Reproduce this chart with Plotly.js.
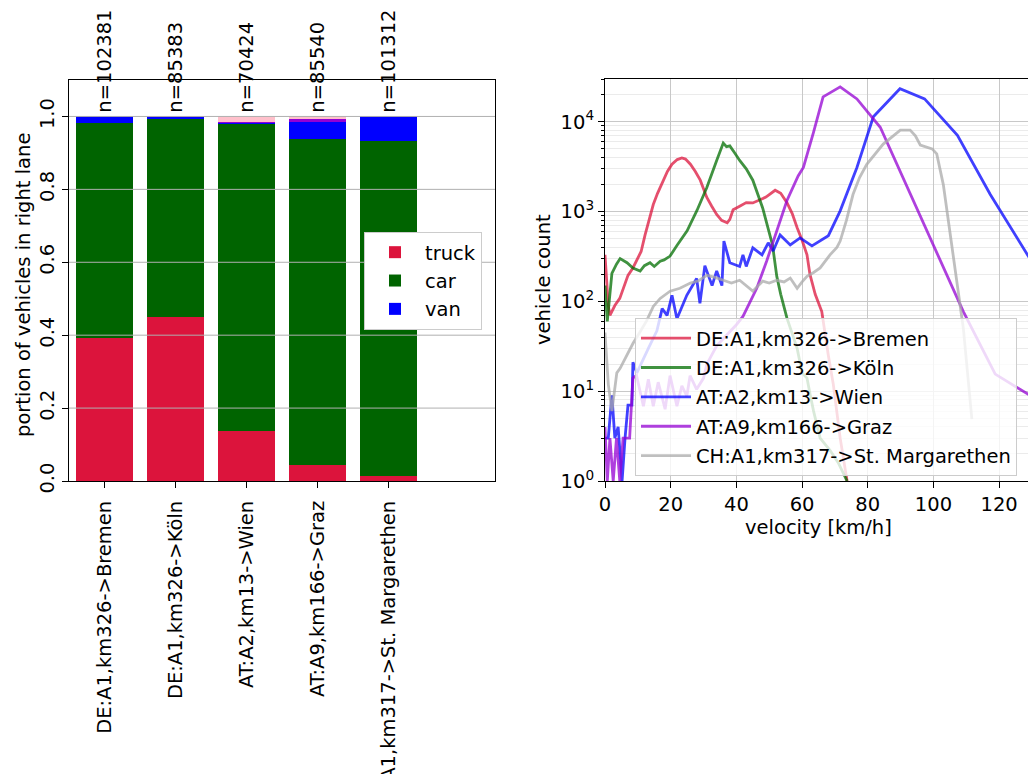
<!DOCTYPE html>
<html>
<head>
<meta charset="utf-8">
<script src="https://cdn.plot.ly/plotly-3.0.1.min.js"></script>
<style>
html,body{margin:0;padding:0;overflow:hidden;background:#fff;}
#chart{width:1034px;height:774px;}
</style>
</head>
<body>
<div id="chart"></div>
<script>
// ---------- left chart data ----------
const sites = ["DE:A1,km326->Bremen","DE:A1,km326->Köln","AT:A2,km13->Wien","AT:A9,km166->Graz","CH:A1,km317->St. Margarethen"];
const counts = [102381, 85383, 70424, 85540, 101312];
const truckShare = [0.393, 0.450, 0.137, 0.045, 0.013];
const carShare   = [0.589, 0.544, 0.841, 0.892, 0.919];
const vanShare   = [0.018, 0.005, 0.003, 0.049, 0.068];
const otherAShare = [0.000, 0.001, 0.004, 0.008, 0.000];
const otherBShare = [0.000, 0.000, 0.015, 0.006, 0.000];
const leftGridVals = [0.2, 0.4, 0.6, 0.8, 1.0];

// ---------- right chart data ----------
const bremenV = [0,1,1.5,3,4.5,6,7,8.5,10,11,12.2,13.5,14.7,16,17.7,19,20.4,22,23.4,24.5,26,27.5,29,30,31,32.5,34,35.5,37.2,38,39,41,43,45,47,49,51.8,53.5,55.4,57,58.5,60,61.5,62.4,64,66,68,69.5,71.6,73.7];
const bremenC = [330,90,70,90,108,150,195,236,300,360,550,800,1200,1600,2240,2800,3370,3800,3960,3850,3370,2800,2240,1800,1440,1150,930,800,750,820,1050,1150,1260,1250,1360,1450,1730,1600,1260,950,660,480,330,200,120,77,25,12,3,1];
const koelnV = [0,0.7,2.1,3.5,4.6,6.7,8.5,10.7,12,13.7,15,16.8,18,19.8,22,25,28,31,34,36,37,38,39.5,41,43,45,48,50,51,52.3,53.5,55.4,58.5,60,61.5,62.5,63.5,65.5,68.5,71,73.7];
const koelnC = [150,60,205,260,300,270,236,218,250,270,245,280,290,320,425,610,1030,1860,3720,5800,5300,5400,4500,3720,3000,2240,1100,600,425,190,120,65,30,16,14,9,6,3,2.2,1.6,1];
const wienV = [0,1,2.1,3,4,5.2,6.1,7,8.2,8.5,9.7,11.6,13.2,15.8,17.4,18.9,20.4,21.9,24.9,27.9,28.9,30.4,32.6,34,35.6,36.2,38,41,42,43,45,47.8,49.7,51.2,53.3,56.4,59.4,63,68,71.6,76.7,81.7,89.8,97.3,107.3,117.3,128.6,140];
const wienC = [3,3,9,3,4,1,3,7,7,21,16,23,30,47,83,70,117,64,117,180,95,250,150,218,150,470,270,245,330,245,395,330,450,365,550,425,510,415,540,1020,3100,11400,23400,18000,7100,1550,330,70];
const grazV = [0,0.7,1.5,2.5,3.5,4.5,5.5,6.5,7.5,8.5,9.6,11.7,13.2,14.7,16.2,18.3,19.8,21.9,23.4,24.9,25.9,27.9,30,31,34,37,40,42,46.2,49.2,52.3,55.4,58.8,60.4,63.5,66.4,71.6,76.7,83.8,109.1,118.8,130];
const grazC = [4,1,3,1,3,1,3,3,3,14,15,6.8,13.6,6.8,12.6,6.3,14.9,6.8,11.5,8.8,14.9,10.5,14,20,32,42,55,68,140,280,610,1330,2500,3100,7700,19000,24500,18000,8700,77,15.5,8.7];
const chV = [0,1,2.1,3.6,4.6,5.5,6.7,8.5,10.7,12.7,14.7,16.8,19.8,22.8,26,28.5,31,33.5,36,38.5,41,43,45,48,50,52.3,54.5,56.4,58.5,60,61.5,63.5,65.5,68.5,70.6,71.6,73.5,75.5,77.5,79.7,84.7,89.9,92.9,94.5,96,99.6,101,103,104.1,105.5,107.1,109.1,111.7];
const chC = [45,12,6,16,18,21,25,34,46,61,88,108,130,140,160,170,195,185,172,160,172,150,130,168,160,172,165,182,140,165,190,210,236,330,400,470,800,1550,2400,3370,5650,8100,8100,7000,5500,5000,4400,2000,1020,450,180,50,4.9];

const logTickVals = [1, 10, 100, 1000, 10000];
const logTickText = ["10<sup>0</sup>","10<sup>1</sup>","10<sup>2</sup>","10<sup>3</sup>","10<sup>4</sup>"];
const minorVals = [];
[1,10,100,1000,10000].forEach(d => { for (let k = 2; k <= 9; k++) minorVals.push(d*k); });

// ---------- geometry ----------
const W = 1034, H = 774;
const FONT = "DejaVu Sans";
const FS = 19.5;
const px = v => v / W;
const py = v => 1 - v / H;

const traces = [];
const barSeries = [
  {name: "truck", vals: truckShare, color: "#DC143C", show: true},
  {name: "car", vals: carShare, color: "#006400", show: true},
  {name: "van", vals: vanShare, color: "#0000FF", show: true},
  {name: "other A", vals: otherAShare, color: "#9400D3", show: false},
  {name: "other B", vals: otherBShare, color: "#FFC0CB", show: false}
];
barSeries.forEach(s => traces.push({
  type: "bar", x: sites, y: s.vals, name: s.name, showlegend: s.show,
  marker: {color: s.color, line: {width: 0}}, width: 0.8,
  xaxis: "x", yaxis: "y", legend: "legend", hoverinfo: "skip"
}));

const lineSeries = [
  {name: "DE:A1,km326->Bremen", v: bremenV, c: bremenC, color: "rgba(220,20,60,0.75)"},
  {name: "DE:A1,km326->Köln", v: koelnV, c: koelnC, color: "rgba(0,110,0,0.75)"},
  {name: "AT:A2,km13->Wien", v: wienV, c: wienC, color: "rgba(0,0,255,0.75)"},
  {name: "AT:A9,km166->Graz", v: grazV, c: grazC, color: "rgba(148,0,211,0.75)"},
  {name: "CH:A1,km317->St. Margarethen", v: chV, c: chC, color: "rgba(169,169,169,0.75)"}
];
lineSeries.forEach((s, i) => traces.push({
  type: "scatter", mode: "lines", x: s.v, y: s.c, name: s.name,
  legendgroup: "g" + i,
  line: {color: s.color, width: 2.8}, xaxis: "x2", yaxis: "y2", legend: "legend2",
  hoverinfo: "skip"
}));

const annotations = sites.map((s, i) => ({
  x: s, y: 1.005, xref: "x", yref: "y", text: "n=" + counts[i],
  textangle: -90, showarrow: false, yanchor: "bottom", xanchor: "center",
  font: {family: FONT, size: FS, color: "#000"}
}));
annotations.push({
  x: px(23), y: py(285), xref: "paper", yref: "paper", text: "portion of vehicles in right lane",
  textangle: -90, showarrow: false, xanchor: "center", yanchor: "middle",
  font: {family: FONT, size: FS, color: "#000"}
});
annotations.push({
  x: px(543), y: py(280), xref: "paper", yref: "paper", text: "vehicle count",
  textangle: -90, showarrow: false, xanchor: "center", yanchor: "middle",
  font: {family: FONT, size: FS, color: "#000"}
});
annotations.push({
  x: px(818), y: py(527), xref: "paper", yref: "paper", text: "velocity [km/h]",
  showarrow: false, xanchor: "center", yanchor: "middle",
  font: {family: FONT, size: FS, color: "#000"}
});

const shapes = leftGridVals.map(g => ({
  type: "line", xref: "x domain", yref: "y", x0: 0, x1: 1, y0: g, y1: g,
  line: {color: "#b0b0b0", width: 1}, layer: "above"
}));

const tickFont = {family: FONT, size: FS, color: "#000"};
const layout = {
  width: W, height: H,
  margin: {l: 0, r: 0, t: 0, b: 0},
  paper_bgcolor: "#fff", plot_bgcolor: "#fff",
  font: {family: FONT, size: FS, color: "#000"},
  barmode: "stack",
  xaxis: {
    domain: [px(69), px(495)], anchor: "y", type: "category", range: [-0.5, 5.5],
    tickangle: -90, tickfont: tickFont, ticks: "outside", ticklen: 6, tickcolor: "#000",
    ticklabelstandoff: 5,
    showline: true, mirror: true, linecolor: "#000", linewidth: 1, showgrid: false,
    automargin: false, fixedrange: true
  },
  yaxis: {
    domain: [py(481), py(80)], anchor: "x", range: [0, 1.1], dtick: 0.2, tick0: 0,
    tickformat: ".1f", tickangle: -90, tickfont: tickFont, ticks: "outside", ticklen: 6,
    tickcolor: "#000", showline: true, mirror: true, linecolor: "#000", linewidth: 1,
    showgrid: false, zeroline: false, automargin: false
  },
  xaxis2: {
    domain: [px(605), px(1032)], anchor: "y2", range: [0, 130], dtick: 20, tick0: 0,
    tickfont: tickFont, ticks: "outside", ticklen: 6, tickcolor: "#000",
    showline: true, mirror: true, linecolor: "#000", linewidth: 1,
    showgrid: true, gridcolor: "#c8c8c8", gridwidth: 1, zeroline: false, automargin: false
  },
  yaxis2: {
    domain: [py(481), py(79)], anchor: "x2", type: "log", range: [0, Math.log10(30000)],
    tickmode: "array", tickvals: logTickVals, ticktext: logTickText,
    tickfont: tickFont, ticks: "outside", ticklen: 6, tickcolor: "#000",
    showline: true, mirror: true, linecolor: "#000", linewidth: 1,
    showgrid: true, gridcolor: "#c8c8c8", gridwidth: 1, zeroline: false, automargin: false,
    minor: {tickmode: "array", tickvals: minorVals, ticks: "outside", ticklen: 3,
            tickcolor: "#000", showgrid: true, gridcolor: "#ebebeb", gridwidth: 1}
  },
  legend: {
    x: px(364), y: py(232), xanchor: "left", yanchor: "top", traceorder: "normal",
    bgcolor: "#ffffff", bordercolor: "#cccccc", borderwidth: 1,
    font: {family: FONT, size: FS, color: "#000"}, itemwidth: 50
  },
  legend2: {
    x: px(635), y: py(318), xanchor: "left", yanchor: "top", traceorder: "grouped",
    tracegroupgap: 1,
    bgcolor: "rgba(255,255,255,0.8)", bordercolor: "#cccccc", borderwidth: 1,
    font: {family: FONT, size: FS, color: "#000"}, itemwidth: 50
  },
  annotations: annotations,
  shapes: shapes
};

Plotly.newPlot("chart", traces, layout, {staticPlot: true, displayModeBar: false});
</script>
</body>
</html>
